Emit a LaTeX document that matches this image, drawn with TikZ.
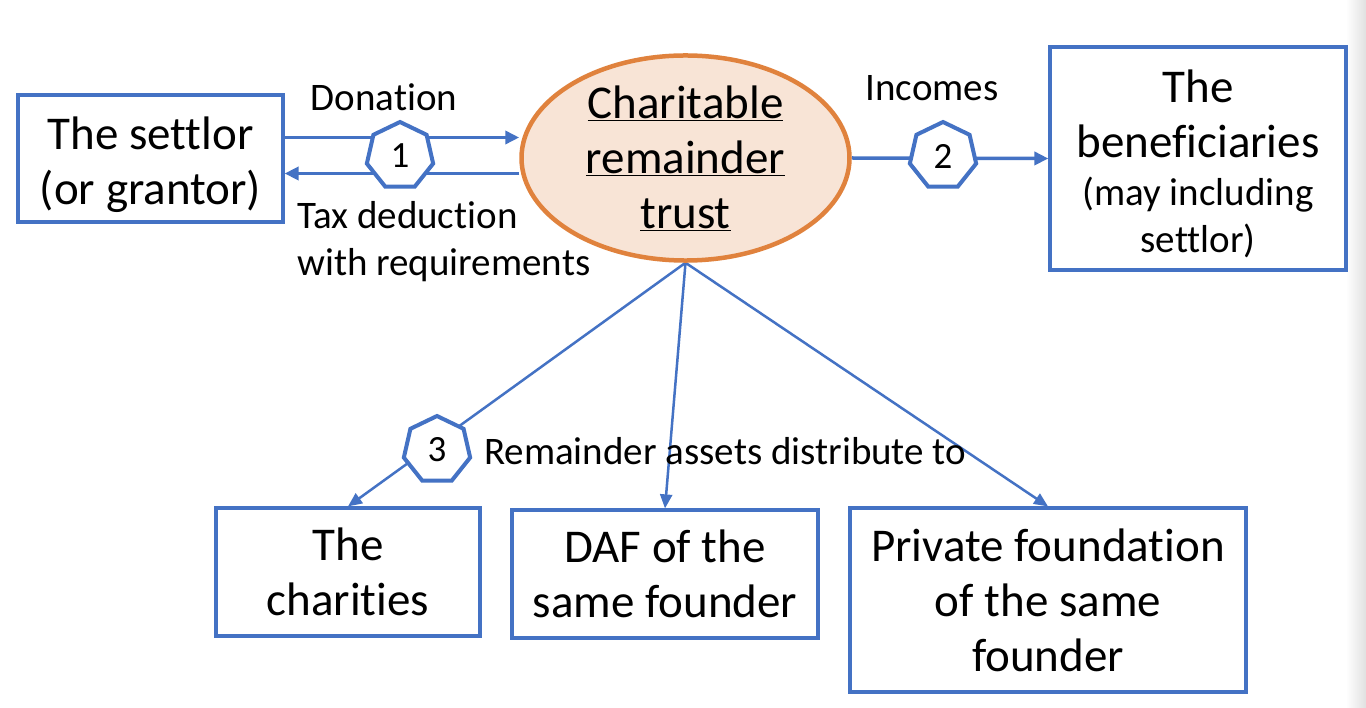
\documentclass[tikz,border=0pt]{standalone}
\usepackage{fontspec}
\setmainfont{Carlito}[Ligatures={NoCommon}]
\usetikzlibrary{shapes.geometric,arrows.meta,backgrounds}
\definecolor{oblue}{HTML}{4472C4}
\definecolor{oorange}{HTML}{E0823D}
\definecolor{opeach}{HTML}{F8E4D6}
\newcommand{\bigf}{\fontsize{47}{55}\selectfont}
\newcommand{\lblf}{\fontsize{39}{47}\selectfont}
\begin{document}
\begin{tikzpicture}[x=1pt,y=-1pt,
  box/.style={draw=oblue, line width=3.2pt, align=center, inner sep=0pt, font=\bigf, text=black},
  hept/.style={regular polygon, regular polygon sides=7, draw=oblue, line width=4pt, fill=white, minimum size=68pt, inner sep=0pt, font=\fontsize{37}{40}\selectfont},
  conn/.style={draw=oblue, line width=3.5pt},
  arr/.style={conn, -{Triangle[length=14pt,width=13pt]}},
  thin arr/.style={draw=oblue, line width=2.5pt, -{Triangle[length=14pt,width=12pt]}},
  lbl/.style={font=\lblf, inner sep=0pt, text=black}]
\useasboundingbox (0,0) rectangle (1366,708);

% nodes
\node[box, minimum width=265pt, minimum height=127pt] (st) at (150.5,158.5) {\rule{0pt}{45pt}The settlor\\(or grantor)};
\node[ellipse, draw=oorange, fill=opeach, line width=4.5pt, minimum width=328pt, minimum height=200pt, inner sep=0pt, align=center, font=\bigf] (cr) at (685.5,158) {\underline{Charitable}\\\underline{remainder}\\\underline{trust}};
\node[box, minimum width=296pt, minimum height=223pt] (be) at (1198,158.5) {\rule{0pt}{44pt}The\\beneficiaries\\[-7pt]\lblf (may including\\[-8pt]\lblf settlor)};
\node[box, minimum width=264pt, minimum height=128pt] (ch) at (348,572) {The\\charities};
\node[box, minimum width=306pt, minimum height=128pt] (daf) at (665,574) {DAF of the\\same founder};
\node[box, minimum width=396pt, minimum height=184pt] (pf) at (1048,600) {Private foundation\\of the same\\founder};

\node[hept] (h1) at (400,156) {1};
\node[hept] (h2) at (943,156) {2};
\node[hept] (h3) at (437,450) {3};

\node[lbl] (don) at (384,97) {Donation};
\node[lbl, anchor=west, align=left] (tax) at (297,242) {Tax deduction\\with requirements};
\node[lbl] (inc) at (932,88) {Incomes};
\node[lbl, anchor=west] (rem) at (484,451) {Remainder assets distribute to};

\begin{scope}[on background layer]
  \fill[white] (0,0) rectangle (1366,708);
  \shade[left color=white, right color=black!12] (1346,0) rectangle (1366,708);
  \coordinate (d1a) at ([yshift=21pt]st.east);
  \coordinate (d1b) at ([yshift=-15pt]st.east);
  \draw[arr] (d1a) -- (d1a -| cr.west);
  \draw[arr] (d1b -| cr.west) -- (d1b);
  \draw[arr] (cr.east) -- (be.west);
  \draw[thin arr] (cr.south) -- (ch.north);
  \draw[thin arr] (cr.south) -- (daf.north);
  \draw[thin arr] (cr.south) -- (pf.north);
\end{scope}
\end{tikzpicture}
\end{document}
